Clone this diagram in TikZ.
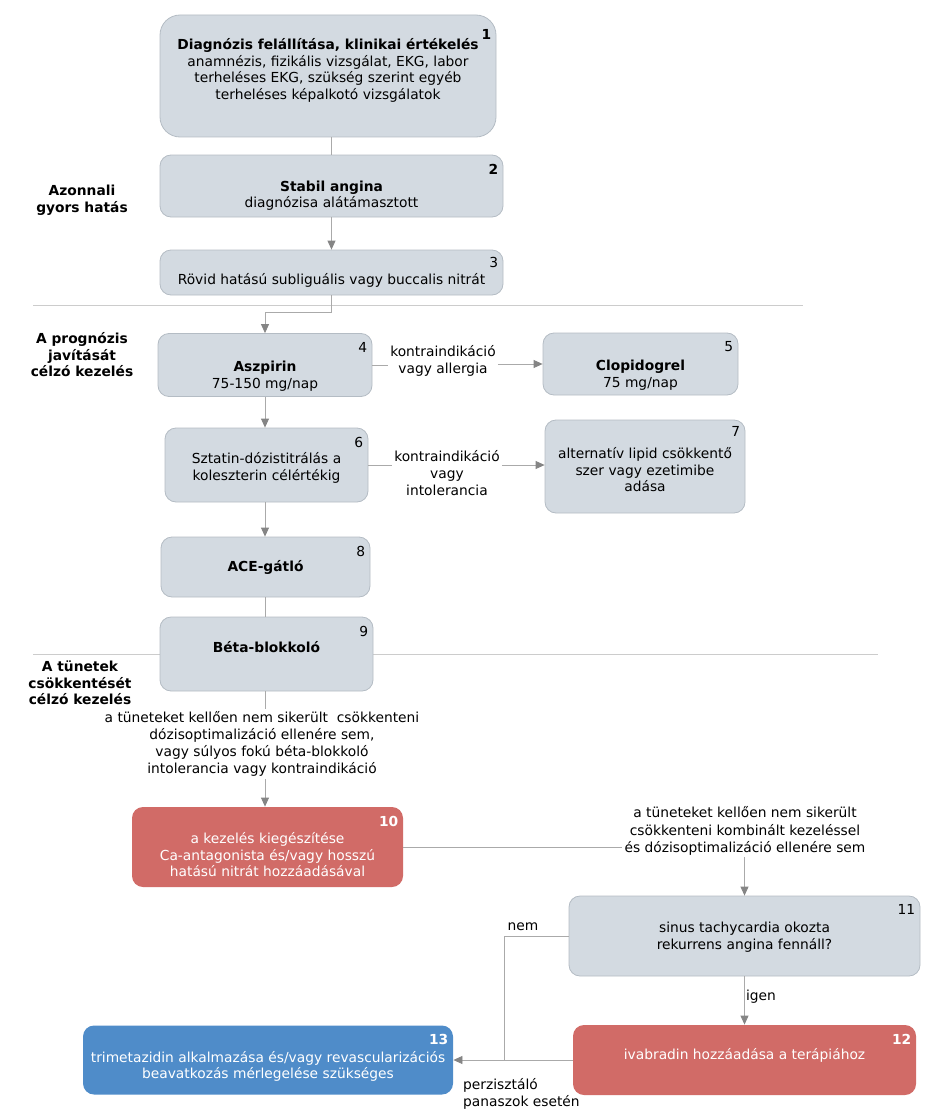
\documentclass[tikz,border=0pt]{standalone}
\usepackage{fontspec}
\setmainfont{DejaVu Sans}
\usetikzlibrary{arrows.meta}
\definecolor{boxfill}{HTML}{D3DAE1}
\definecolor{boxline}{HTML}{B4BCC4}
\definecolor{redfill}{HTML}{D16B67}
\definecolor{bluefill}{HTML}{4F8CC9}
\definecolor{linegrey}{HTML}{AAAAAA}
\definecolor{tipgrey}{HTML}{858585}
\definecolor{sepgrey}{HTML}{CCCCCC}
\newcommand\boxfont{\fontsize{13.8}{16.5}\selectfont}
\newcommand\condfont{\fontsize{13.8}{17.2}\selectfont}
\newcommand\topgap[1]{\rule{0pt}{#1pt}}

\begin{document}
\begin{tikzpicture}[x=1pt, y=-1pt, >={Triangle[length=9pt,width=8pt,color=tipgrey]},
  box/.style={draw=boxline, line width=0.8pt, fill=boxfill, rounded corners=11pt,
    align=center, inner sep=2pt, font=\boxfont},
  redbox/.style={box, draw=none, fill=redfill, text=white},
  bluebox/.style={box, draw=none, fill=bluefill, text=white},
  num/.style={anchor=north east, xshift=-5pt, yshift=-9pt, inner sep=0pt, font=\boxfont},
  numb/.style={num, font=\boxfont\bfseries},
  numw/.style={numb, text=white},
  cond/.style={align=center, inner sep=2pt, font=\condfont},
  section/.style={align=center, inner sep=0pt, font=\boxfont\bfseries},
  conn/.style={draw=linegrey, line width=0.8pt},
  sep/.style={draw=sepgrey, line width=0.8pt}]
\useasboundingbox (0,0) rectangle (936,1113);

% separators between the three parts
\draw[sep] (33,305) -- (803,305);
\draw[sep] (33,654) -- (878,654);

% part titles
\node[section] (s1) at (82,200) {Azonnali\\gyors hatás};
\node[section] (s2) at (82,355) {A prognózis\\javítását\\célzó kezelés};
\node[section] (s3) at (80,683) {A tünetek\\csökkentését\\célzó kezelés};

% boxes
\node[box, rounded corners=20pt, minimum width=336pt, minimum height=122pt, text depth=14pt,
  label={[numb, yshift=-6pt]north east:1}] (b1) at (328,76)
  {\textbf{Diagnózis felállítása, klinikai értékelés}\\anamnézis, fizikális vizsgálat, EKG, labor\\terheléses EKG, szükség szerint egyéb\\terheléses képalkotó vizsgálatok};
\node[box, minimum width=343pt, minimum height=62pt, label={[numb]north east:2}] (b2) at (331.5,186)
  {\topgap{30}\textbf{Stabil angina}\\diagnózisa alátámasztott};
\node[box, minimum width=343pt, minimum height=45pt, label={[num, yshift=2pt]north east:3}] (b3) at (331.5,272.5)
  {\topgap{27}Rövid hatású subliguális vagy buccalis nitrát};
\node[box, minimum width=214pt, minimum height=63pt, label={[num]north east:4}] (b4) at (265,365)
  {\topgap{33}\textbf{Aszpirin}\\75-150 mg/nap};
\node[box, minimum width=195pt, minimum height=62pt, label={[num]north east:5}] (b5) at (640.5,364)
  {\topgap{33}\textbf{Clopidogrel}\\75 mg/nap};
\node[box, minimum width=203pt, minimum height=74pt, label={[num]north east:6}] (b6) at (266.5,465)
  {\topgap{17}Sztatin-dózistitrálás a\\koleszterin célértékig};
\node[box, minimum width=200pt, minimum height=93pt, label={[num, yshift=2pt]north east:7}] (b7) at (645,466.5)
  {\topgap{18}alternatív lipid csökkentő\\szer vagy ezetimibe\\adása};
\node[box, minimum width=209pt, minimum height=60pt, label={[num]north east:8}] (b8) at (265.5,567)
  {\textbf{ACE-gátló}};
\node[box, minimum width=213pt, minimum height=74pt, text depth=15pt, label={[num]north east:9}] (b9) at (266.5,654)
  {\textbf{Béta-blokkoló}};
\node[redbox, minimum width=271pt, minimum height=80pt, label={[numw]north east:10}] (b10) at (267.5,847)
  {\topgap{27}a kezelés kiegészítése\\Ca-antagonista és/vagy hosszú\\hatású nitrát hozzáadásával};
\node[box, minimum width=351pt, minimum height=80pt, label={[num]north east:11}] (b11) at (744.5,936)
  {\topgap{13}sinus tachycardia okozta\\rekurrens angina fennáll?};
\node[redbox, minimum width=343pt, minimum height=70pt, text depth=12pt, label={[numw]north east:12}] (b12) at (744.5,1060)
  {ivabradin hozzáadása a terápiához};
\node[bluebox, minimum width=370pt, minimum height=69pt, label={[numw]north east:13}] (b13) at (268,1060)
  {\topgap{24}trimetazidin alkalmazása és/vagy revascularizációs\\beavatkozás mérlegelése szükséges};

% conditions on the connectors
\node[cond] (l45) at (443,361) {kontraindikáció\\vagy allergia};
\node[cond] (l67) at (447,473) {kontraindikáció\\vagy\\intolerancia};
\node[cond] (l910) at (262,744) {a tüneteket kellően nem sikerült\ \ csökkenteni\\dózisoptimalizáció ellenére sem,\\vagy súlyos fokú béta-blokkoló\\intolerancia vagy kontraindikáció};
\node[cond] (l1011) at (745,831) {a tüneteket kellően nem sikerült\\csökkenteni kombinált kezeléssel\\és dózisoptimalizáció ellenére sem};
\node[cond] (lnem) at (523,927) {nem};
\node[cond] (ligen) at (761,997) {igen};
\node[cond, align=left, anchor=north west] (lpersist) at (461,1076) {perzisztáló\\panaszok esetén};

% connectors
\coordinate (c34) at (265,312);
\coordinate (j13) at (504,1060);
\draw[conn] (b2.north |- b1.south) -- (b2.north);
\draw[conn, ->] (b2.south) -- (b3.north);
\draw[conn, ->] (b3.south) |- (c34) -- (b4.north);
\draw[conn] (b4.east) -- (l45.west |- b4.east);
\draw[conn, ->] (l45.east |- b5.west) -- (b5.west);
\draw[conn, ->] (b4.south) -- (b4.south |- b6.north);
\draw[conn] (b6.east) -- (l67.west |- b6.east);
\draw[conn, ->] (l67.east |- b6.east) -- (b7.west |- b6.east);
\draw[conn, ->] (b4.south |- b6.south) -- (b4.south |- b8.north);
\draw[conn] (b4.south |- b8.south) -- (b4.south |- b9.north);
\draw[conn] (b4.south |- b9.south) -- (b4.south |- l910.north);
\draw[conn, ->] (b4.south |- l910.south) -- (b4.south |- b10.north);
\draw[conn] (b10.east) -- (b10.east -| l1011.west);
\draw[conn, ->] (b11.north |- l1011.south) -- (b11.north);
\draw[conn, ->] (b11.south) -- (b12.north);
\draw[conn] (b11.west) -| (j13);
\draw[conn, ->] (b12.west) -- (b13.east);
\end{tikzpicture}
\end{document}
